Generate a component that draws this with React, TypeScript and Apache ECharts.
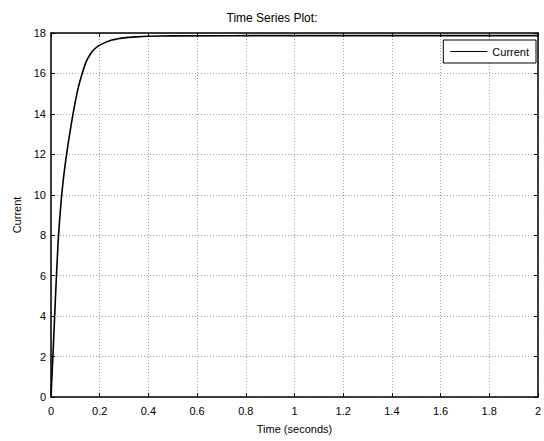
import React, { useEffect, useRef } from "react";
import * as echarts from "echarts";

const timeSeconds = [0, 0.005, 0.01, 0.015, 0.022, 0.031, 0.044, 0.054, 0.064, 0.078, 0.092, 0.11, 0.128, 0.145, 0.164, 0.18, 0.2, 0.25, 0.3, 0.35, 0.4, 0.5, 1.0, 1.5, 2.0];
const currentValues = [0, 1.3, 2.6, 4, 5.9, 8, 10, 11.1, 12, 13.1, 14.1, 15.2, 16, 16.6, 17.0, 17.22, 17.4, 17.65, 17.76, 17.81, 17.84, 17.86, 17.87, 17.87, 17.87];
const seriesName = "Current";
const titleText = "Time Series Plot:";
const xAxisName = "Time (seconds)";
const yAxisName = "Current";

const FONT = "'Liberation Sans', Arial, Helvetica, sans-serif";

export default function App() {
  const ref = useRef<HTMLDivElement>(null);
  useEffect(() => {
    if (!ref.current) return;
    const chart = echarts.init(ref.current, undefined, { renderer: "svg" });
    const data = timeSeconds.map((t, i) => [t, currentValues[i]]);
    const fmt = (v: number) => String(Math.round(v * 10) / 10);
    const gridLine = { show: true, lineStyle: { color: "#a0a0a0", type: [1, 2] as any, width: 1 } };
    chart.setOption({
      animation: false,
      backgroundColor: "#ffffff",
      textStyle: { fontFamily: FONT },
      title: {
        text: titleText,
        left: "center",
        top: 7,
        textStyle: { fontFamily: FONT, fontSize: 12, fontWeight: "normal", color: "#000" },
      },
      legend: {
        right: 8,
        top: 40,
        orient: "vertical",
        data: [seriesName],
        itemWidth: 37,
        itemHeight: 12,
        itemGap: 5,
        padding: [6, 7, 6, 7],
        borderColor: "#000",
        borderWidth: 1,
        borderRadius: 0,
        backgroundColor: "#fff",
        icon: "path://M0,0 L37,0 L37,1 L0,1 Z",
        itemStyle: { color: "#000" },
        textStyle: { fontFamily: FONT, fontSize: 11, color: "#000" },
      },
      grid: { left: 51, right: 5, top: 33, bottom: 44, containLabel: false },
      xAxis: [
        {
          type: "value",
          min: 0,
          max: 2,
          interval: 0.2,
          position: "bottom",
          name: xAxisName,
          nameLocation: "middle",
          nameGap: 26,
          nameTextStyle: { fontFamily: FONT, fontSize: 11, color: "#000" },
          axisLine: { show: true, onZero: false, lineStyle: { color: "#000", width: 1.5 } },
          axisTick: { show: true, inside: true, length: 4, lineStyle: { color: "#000" } },
          axisLabel: { color: "#000", fontSize: 11, fontFamily: FONT, margin: 8, formatter: fmt, showMaxLabel: true },
          splitLine: gridLine,
        },
        {
          type: "value",
          min: 0,
          max: 2,
          interval: 0.2,
          position: "top",
          axisLine: { show: true, onZero: false, lineStyle: { color: "#000", width: 1.5 } },
          axisTick: { show: true, inside: true, length: 4, lineStyle: { color: "#000" } },
          axisLabel: { show: false },
          splitLine: { show: false },
        },
      ],
      yAxis: [
        {
          type: "value",
          min: 0,
          max: 18,
          interval: 2,
          position: "left",
          name: yAxisName,
          nameLocation: "middle",
          nameGap: 25,
          nameTextStyle: { fontFamily: FONT, fontSize: 11, color: "#000" },
          axisLine: { show: true, onZero: false, lineStyle: { color: "#000", width: 1.5 } },
          axisTick: { show: true, inside: true, length: 4, lineStyle: { color: "#000" } },
          axisLabel: { color: "#000", fontSize: 11, fontFamily: FONT, margin: 5 },
          splitLine: gridLine,
        },
        {
          type: "value",
          min: 0,
          max: 18,
          interval: 2,
          position: "right",
          axisLine: { show: true, onZero: false, lineStyle: { color: "#000", width: 1.5 } },
          axisTick: { show: true, inside: true, length: 4, lineStyle: { color: "#000" } },
          axisLabel: { show: false },
          splitLine: { show: false },
        },
      ],
      series: [
        {
          name: seriesName,
          type: "line",
          xAxisIndex: 0,
          yAxisIndex: 0,
          data,
          symbol: "none",
          smooth: 0.25,
          lineStyle: { color: "#000", width: 1.6 },
          itemStyle: { color: "#000" },
        },
      ],
    });
    return () => chart.dispose();
  }, []);
  return (
    <div
      ref={ref}
      style={{ position: "fixed", left: 0, top: 0, width: 544, height: 441, overflow: "hidden" }}
    />
  );
}
